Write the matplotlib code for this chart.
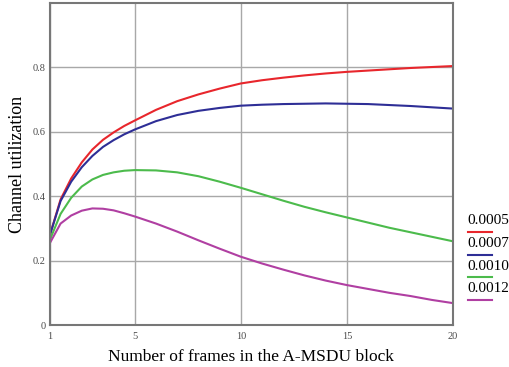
import numpy as np
import matplotlib
matplotlib.use("Agg")
import matplotlib.pyplot as plt

# frames in the A-MSDU block (read at half steps where the curves bend)
frames = [1, 1.5, 2, 2.5, 3, 3.5, 4, 4.5, 5, 6, 7, 8, 9, 10,
          11, 12, 13, 14, 15, 16, 17, 18, 19, 20]

# channel utilization, one list per curve
u_0005 = [0.280, 0.390, 0.455, 0.505, 0.545, 0.575, 0.598, 0.618, 0.635, 0.668,
          0.695, 0.716, 0.734, 0.750, 0.760, 0.768, 0.775, 0.781, 0.786, 0.790,
          0.794, 0.798, 0.801, 0.804]
u_0007 = [0.280, 0.385, 0.445, 0.490, 0.525, 0.553, 0.574, 0.592, 0.607, 0.633,
          0.652, 0.665, 0.674, 0.681, 0.684, 0.686, 0.687, 0.688, 0.687, 0.686,
          0.683, 0.680, 0.676, 0.672]
u_0010 = [0.265, 0.345, 0.395, 0.430, 0.452, 0.466, 0.474, 0.479, 0.481, 0.480,
          0.474, 0.462, 0.445, 0.426, 0.406, 0.386, 0.367, 0.350, 0.334, 0.318,
          0.302, 0.288, 0.274, 0.260]
u_0012 = [0.255, 0.315, 0.340, 0.355, 0.362, 0.361, 0.356, 0.347, 0.337, 0.315,
          0.290, 0.263, 0.237, 0.212, 0.191, 0.172, 0.154, 0.138, 0.124, 0.112,
          0.100, 0.090, 0.078, 0.068]

labels = ["0.0005", "0.0007", "0.0010", "0.0012"]
series = [u_0005, u_0007, u_0010, u_0012]
colors = ["#e8262c", "#2e2e96", "#4cbb4c", "#b03fa2"]

xticks = [1, 5, 10, 15, 20]
yticks = [0, 0.2, 0.4, 0.6, 0.8]

plt.rcParams['font.family'] = ['Liberation Serif', 'DejaVu Serif']

fig = plt.figure(figsize=(5.1, 3.67), dpi=100)
ax = fig.add_axes([0.098, 0.1144, 0.79, 0.8776])

for y, c in zip(series, colors):
    ax.plot(frames, y, color=c, lw=1.5)

ax.set_xlim(1, 20)
ax.set_ylim(0, 1.0)
ax.set_xticks(xticks)
ax.set_xticklabels([str(t) for t in xticks])
ax.set_yticks(yticks)
ax.set_yticklabels(["0", "0.2", "0.4", "0.6", "0.8"])
ax.tick_params(length=0, labelsize=7.5, colors="#4a4a4a")
ax.tick_params(axis="x", pad=5)
ax.tick_params(axis="y", pad=3)
ax.grid(True, color="#a8a8a8", lw=1)
for s in ax.spines.values():
    s.set_color("#777777")
    s.set_linewidth(1.5)

ax.set_xlabel("Number of frames in the A-MSDU block", fontsize=12.5, labelpad=6)
ax.set_ylabel("Channel utilization", fontsize=13, labelpad=5)

# legend outside the axes on the right, text above a short line
for i, (lab, c) in enumerate(zip(labels, colors)):
    ty = 221 + i * 22.6
    fig.text(467 / 510, 1 - ty / 367, lab, fontsize=11, va="center", ha="left")
    ly = 1 - (ty + 11) / 367
    fig.add_artist(plt.Line2D([468 / 510, 492 / 510], [ly, ly], color=c, lw=1.5,
                              transform=fig.transFigure))

fig.savefig("out.png", dpi=100)
